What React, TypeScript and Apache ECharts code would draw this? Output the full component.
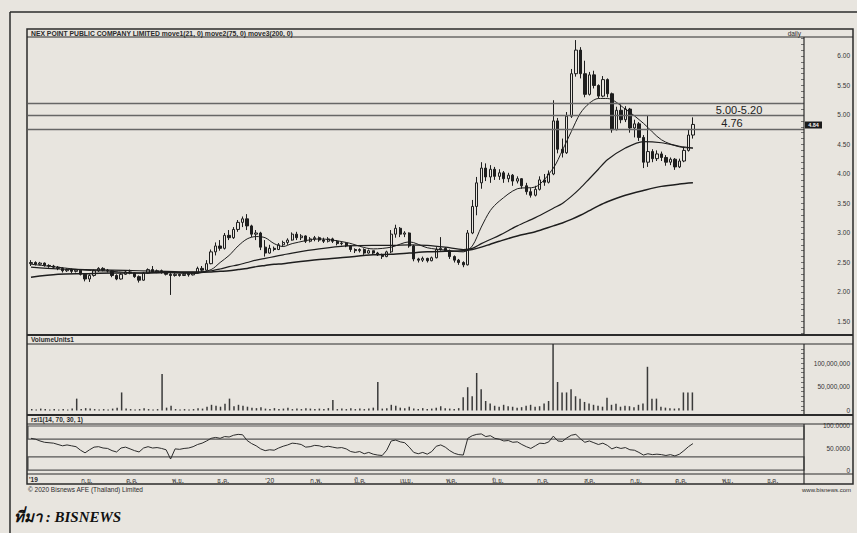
import React, { useEffect, useRef } from "react";
import * as echarts from "echarts";

const candleDates = [
  "2019-07-26","2019-07-29","2019-08-01","2019-08-04","2019-08-07","2019-08-10","2019-08-13","2019-08-16","2019-08-19","2019-08-22",
  "2019-08-25","2019-08-28","2019-08-31","2019-09-03","2019-09-06","2019-09-09","2019-09-12","2019-09-15","2019-09-18","2019-09-21",
  "2019-09-24","2019-09-27","2019-09-30","2019-10-03","2019-10-06","2019-10-09","2019-10-12","2019-10-15","2019-10-18","2019-10-21",
  "2019-10-24","2019-10-27","2019-10-30","2019-11-02","2019-11-05","2019-11-08","2019-11-11","2019-11-14","2019-11-17","2019-11-20",
  "2019-11-23","2019-11-26","2019-11-29","2019-12-02","2019-12-05","2019-12-08","2019-12-11","2019-12-14","2019-12-17","2019-12-20",
  "2019-12-23","2019-12-26","2019-12-29","2020-01-01","2020-01-04","2020-01-07","2020-01-10","2020-01-13","2020-01-16","2020-01-19",
  "2020-01-22","2020-01-25","2020-01-28","2020-01-31","2020-02-03","2020-02-06","2020-02-09","2020-02-12","2020-02-15","2020-02-18",
  "2020-02-21","2020-02-24","2020-02-27","2020-03-01","2020-03-04","2020-03-07","2020-03-10","2020-03-13","2020-03-16","2020-03-19",
  "2020-03-22","2020-03-25","2020-03-28","2020-03-31","2020-04-03","2020-04-06","2020-04-09","2020-04-12","2020-04-15","2020-04-18",
  "2020-04-21","2020-04-24","2020-04-27","2020-04-30","2020-05-03","2020-05-06","2020-05-09","2020-05-12","2020-05-15","2020-05-18",
  "2020-05-21","2020-05-24","2020-05-27","2020-05-30","2020-06-02","2020-06-05","2020-06-08","2020-06-11","2020-06-14","2020-06-17",
  "2020-06-20","2020-06-23","2020-06-26","2020-06-29","2020-07-02","2020-07-05","2020-07-08","2020-07-11","2020-07-14","2020-07-17",
  "2020-07-20","2020-07-23","2020-07-26","2020-07-29","2020-08-01","2020-08-04","2020-08-07","2020-08-10","2020-08-13","2020-08-16",
  "2020-08-19","2020-08-22","2020-08-25","2020-08-28","2020-08-31","2020-09-03","2020-09-06","2020-09-09","2020-09-12","2020-09-15",
  "2020-09-18","2020-09-21","2020-09-24","2020-09-27","2020-09-30","2020-10-03","2020-10-06","2020-10-09"
];

const openPrice = [
  2.48,2.50,2.47,2.49,2.45,2.44,2.42,2.40,2.36,2.38,
  2.35,2.37,2.30,2.22,2.28,2.36,2.40,2.37,2.36,2.28,
  2.22,2.30,2.34,2.32,2.26,2.20,2.32,2.38,2.34,2.36,
  2.33,2.30,2.28,2.30,2.28,2.30,2.29,2.32,2.40,2.37,
  2.48,2.68,2.78,2.74,2.96,2.92,3.06,3.18,3.24,3.12,
  2.98,3.00,2.76,2.66,2.74,2.72,2.80,2.84,2.88,2.98,
  2.92,2.95,2.86,2.90,2.92,2.88,2.86,2.90,2.86,2.82,
  2.83,2.78,2.72,2.70,2.72,2.66,2.70,2.66,2.63,2.60,
  2.68,2.98,3.08,2.98,3.00,2.78,2.56,2.54,2.57,2.53,
  2.58,2.72,2.74,2.70,2.60,2.54,2.50,2.46,3.00,3.45,
  3.85,4.10,3.95,4.08,3.96,4.02,3.92,3.98,3.88,3.92,
  3.80,3.70,3.64,3.74,3.90,3.86,4.00,4.90,4.42,4.36,
  4.98,5.70,6.10,5.70,5.35,5.68,5.50,5.32,5.60,5.36,
  4.75,5.08,4.92,5.10,4.78,4.85,4.62,4.20,4.38,4.26,
  4.34,4.28,4.20,4.25,4.12,4.22,4.40,4.66
];
const closePrice = [
  2.50,2.47,2.49,2.45,2.44,2.42,2.40,2.36,2.38,2.35,
  2.37,2.30,2.22,2.28,2.36,2.40,2.37,2.36,2.28,2.22,
  2.30,2.34,2.32,2.26,2.20,2.32,2.38,2.34,2.36,2.33,
  2.30,2.28,2.30,2.28,2.30,2.29,2.32,2.40,2.37,2.48,
  2.68,2.78,2.74,2.96,2.92,3.06,3.18,3.24,3.12,2.98,
  3.00,2.76,2.66,2.74,2.72,2.80,2.84,2.88,2.98,2.92,
  2.95,2.86,2.90,2.92,2.88,2.86,2.90,2.86,2.82,2.83,
  2.78,2.72,2.70,2.72,2.66,2.70,2.66,2.63,2.60,2.68,
  2.98,3.08,2.98,3.00,2.78,2.56,2.54,2.57,2.53,2.58,
  2.72,2.74,2.70,2.60,2.54,2.50,2.46,3.00,3.45,3.85,
  4.10,3.95,4.08,3.96,4.02,3.92,3.98,3.88,3.92,3.80,
  3.70,3.64,3.74,3.90,3.86,4.00,4.90,4.42,4.36,4.98,
  5.70,6.10,5.70,5.35,5.68,5.50,5.32,5.60,5.36,4.75,
  5.08,4.92,5.10,4.78,4.85,4.62,4.20,4.38,4.26,4.34,
  4.28,4.20,4.25,4.12,4.22,4.40,4.66,4.84
];
const lowPrice = [
  2.44,2.45,2.45,2.43,2.41,2.40,2.37,2.33,2.34,2.32,
  2.33,2.28,2.18,2.17,2.26,2.34,2.35,2.33,2.25,2.20,
  2.21,2.29,2.30,2.24,2.16,2.19,2.31,2.32,2.32,2.31,
  2.28,1.95,2.26,2.26,2.27,2.26,2.28,2.31,2.34,2.36,
  2.47,2.62,2.70,2.72,2.88,2.90,3.02,3.10,3.05,2.93,
  2.88,2.71,2.60,2.65,2.69,2.71,2.78,2.80,2.87,2.88,
  2.88,2.83,2.84,2.86,2.85,2.83,2.84,2.83,2.79,2.79,
  2.76,2.68,2.66,2.67,2.63,2.65,2.63,2.61,2.56,2.59,
  2.66,2.92,2.93,2.93,2.75,2.52,2.50,2.51,2.50,2.52,
  2.57,2.70,2.68,2.56,2.50,2.46,2.42,2.45,2.98,3.30,
  3.75,3.88,3.85,3.90,3.90,3.85,3.86,3.80,3.84,3.75,
  3.65,3.60,3.62,3.72,3.80,3.84,3.98,4.35,4.28,4.34,
  4.95,5.65,5.62,5.30,5.33,5.45,5.28,5.30,5.30,4.70,
  4.74,4.86,4.88,4.70,4.62,4.56,4.10,4.12,4.20,4.22,
  4.22,4.14,4.15,4.07,4.10,4.20,4.38,4.60
];
const highPrice = [
  2.54,2.52,2.51,2.50,2.47,2.46,2.44,2.42,2.40,2.40,
  2.39,2.38,2.32,2.30,2.38,2.42,2.42,2.39,2.37,2.30,
  2.32,2.36,2.38,2.33,2.28,2.34,2.40,2.44,2.38,2.38,
  2.35,2.32,2.32,2.31,2.32,2.31,2.34,2.43,2.44,2.54,
  2.72,2.84,2.88,3.00,3.05,3.10,3.22,3.28,3.32,3.14,
  3.05,3.02,2.88,2.80,2.77,2.83,2.87,2.91,3.01,3.02,
  2.98,2.96,2.93,2.95,2.94,2.92,2.93,2.92,2.88,2.85,
  2.84,2.79,2.74,2.74,2.74,2.72,2.70,2.68,2.65,2.70,
  3.05,3.14,3.10,3.03,3.01,2.80,2.58,2.60,2.58,2.60,
  2.76,2.93,2.76,2.72,2.62,2.56,2.52,3.05,3.56,3.95,
  4.20,4.18,4.15,4.12,4.08,4.05,4.02,4.00,3.96,3.93,
  3.85,3.76,3.80,3.96,4.00,4.06,5.25,4.95,4.60,5.05,
  5.78,6.27,6.15,5.92,5.73,5.75,5.52,5.66,5.62,5.38,
  5.14,5.18,5.15,5.12,4.92,4.88,4.66,5.00,4.42,4.40,
  4.38,4.32,4.28,4.27,4.26,4.46,4.75,4.96
];

// volume in millions of units
const volumeMillions = [
  3,2,4,3,2,3,2,3,2,4,
  25,3,5,4,3,2,3,2,4,6,
  38,4,3,2,3,5,3,2,3,77,
  6,10,3,2,3,2,3,5,4,8,
  12,10,8,14,25,9,12,10,8,6,
  5,7,4,3,5,3,4,6,3,4,
  3,5,4,3,4,3,5,22,3,4,
  3,5,3,4,3,4,6,60,4,5,
  12,10,6,5,8,4,3,5,3,4,
  6,9,5,4,3,5,28,49,30,79,
  45,20,15,10,8,12,9,8,6,7,
  10,12,8,9,15,20,140,60,38,38,
  45,30,25,18,15,12,10,8,27,12,
  14,8,10,9,7,12,15,92,25,25,
  8,6,5,4,5,38,38,38
];

const rsiValues = [
  72,70,66,63,62,61,58,55,57,55,
  53,45,39,46,52,53,50,49,44,41,
  50,52,48,44,41,50,53,50,51,49,
  46,25,48,47,49,50,53,58,61,66,
  72,74,72,76,75,79,81,80,67,60,
  55,48,44,46,45,50,54,57,61,60,
  58,52,53,56,55,52,54,52,50,51,
  48,42,40,42,37,40,36,34,33,45,
  66,68,64,62,52,40,37,40,36,42,
  54,57,52,44,38,35,34,72,78,81,
  82,76,78,72,70,66,67,63,64,58,
  53,49,55,61,60,64,77,66,65,73,
  79,81,71,63,66,62,58,61,56,48,
  52,49,51,46,45,40,34,37,35,36,
  35,33,35,32,36,44,53,60
];

const maDates = [
  "2019-07-26","2019-08-13","2019-08-31","2019-09-18","2019-10-06","2019-10-24","2019-11-11","2019-11-23","2019-11-29","2019-12-05",
  "2019-12-11","2019-12-17","2019-12-23","2019-12-29","2020-01-04","2020-01-10","2020-01-16","2020-02-03","2020-02-21","2020-03-10",
  "2020-03-22","2020-04-03","2020-04-15","2020-04-27","2020-05-09","2020-05-15","2020-05-21","2020-05-27","2020-06-02","2020-06-14",
  "2020-06-26","2020-07-08","2020-07-14","2020-07-20","2020-07-26","2020-08-01","2020-08-07","2020-08-13","2020-08-25","2020-09-06",
  "2020-09-18","2020-09-30","2020-10-09"
];
const move1 = [
  2.47,2.42,2.37,2.35,2.32,2.33,2.31,2.38,2.50,2.62,
  2.78,2.90,2.94,2.92,2.82,2.77,2.82,2.90,2.84,2.73,
  2.76,2.85,2.75,2.71,2.68,2.78,3.10,3.38,3.54,3.75,
  3.78,4.10,4.40,4.72,5.03,5.20,5.28,5.28,5.10,4.86,
  4.58,4.46,4.44
];
const move2 = [
  2.42,2.39,2.38,2.37,2.36,2.35,2.34,2.36,2.39,2.43,
  2.46,2.50,2.54,2.57,2.60,2.63,2.66,2.73,2.78,2.79,
  2.79,2.80,2.79,2.76,2.72,2.74,2.82,2.89,2.96,3.12,
  3.26,3.42,3.50,3.62,3.76,3.92,4.08,4.24,4.44,4.55,
  4.53,4.47,4.44
];
const move3 = [
  2.25,2.30,2.31,2.32,2.32,2.33,2.33,2.34,2.35,2.36,
  2.38,2.40,2.43,2.45,2.47,2.48,2.50,2.55,2.59,2.63,
  2.64,2.66,2.68,2.69,2.70,2.72,2.76,2.81,2.86,2.95,
  3.02,3.12,3.17,3.23,3.30,3.38,3.46,3.53,3.64,3.72,
  3.79,3.83,3.85
];

const keyLevels = [5.2, 5.0, 4.76];
const priceTickLabels = [1.5, 2.0, 2.5, 3.0, 3.5, 4.0, 4.5, 5.0, 5.5, 6.0];
const priceMinorTicks = [
  1.3,1.4,1.5,1.6,1.7,1.8,1.9,2.0,2.1,2.2,2.3,2.4,2.5,2.6,2.7,2.8,2.9,3.0,3.1,3.2,3.3,3.4,3.5,
  3.6,3.7,3.8,3.9,4.0,4.1,4.2,4.3,4.4,4.5,4.6,4.7,4.8,4.9,5.0,5.1,5.2,5.3,5.4,5.5,5.6,5.7,5.8,5.9,6.0,6.1,6.2,6.3
];
const volumeMinorTicks = [0, 10, 20, 30, 40, 50, 60, 70, 80, 90, 100, 110, 120, 130];
const volumeTickLabels = [0, 50, 100];
const rsiTickLabels = [0, 50, 100];
const thaiMonths = ["ม.ค.","ก.พ.","มี.ค.","เม.ย.","พ.ค.","มิ.ย.","ก.ค.","ส.ค.","ก.ย.","ต.ค.","พ.ย.","ธ.ค."];
const lastPrice = "4.84";

const INK = "#2b2b2b";
const PAPER = "#e8e5df";
const SANS = "'Liberation Sans', Arial, sans-serif";
const X_MIN = "2019-07-24";
const X_MAX = "2020-12-22";
const DAY = 86400000;

export default function App() {
  const ref = useRef<HTMLDivElement>(null);
  useEffect(() => {
    document.body.style.margin = "0";
    const chart = echarts.init(ref.current as HTMLDivElement, null, { renderer: "svg" });

    const candles = candleDates.map((d, i) => [d, openPrice[i], closePrice[i], lowPrice[i], highPrice[i]]);
    const vol = candleDates.map((d, i) => [d, volumeMillions[i]]);
    const rsi = candleDates.map((d, i) => [d, rsiValues[i]]);
    const ma = (arr: number[]) => maDates.map((d, i) => [d, arr[i]]);

    const xBase = (gridIndex: number, showLabel: boolean) => ({
      type: "time",
      gridIndex,
      min: X_MIN,
      max: X_MAX,
      minInterval: 28 * DAY,
      maxInterval: 31 * DAY,
      axisLine: { show: false },
      axisTick: { show: false },
      splitLine: { show: false },
      axisLabel: {
        show: showLabel,
        color: "#333",
        fontSize: 6.5,
        fontFamily: "'Noto Sans', 'DejaVu Sans', sans-serif",
        margin: 3,
        verticalAlign: "top",
        formatter: (value: number) => {
          const dt = new Date(value);
          if (dt.getDate() !== 1) return "";
          const m = dt.getMonth();
          const y = dt.getFullYear();
          if (y === 2019 && m === 7) return "";
          if (m === 0) return "'" + String(y).slice(2);
          return thaiMonths[m];
        },
      },
    });

    const yLabel = {
      color: "#333",
      fontSize: 6.5,
      fontFamily: SANS,
      align: "right",
      margin: 46,
    };

    const hline = (x1: number, y1: number, x2: number, y2: number, w = 1) => ({
      type: "line",
      shape: { x1, y1, x2, y2 },
      style: { stroke: INK, lineWidth: w },
      silent: true,
      z: 10,
    });
    const txt = (text: string, x: number, y: number, size: number, opts: any = {}, z = 11) => ({
      type: "text",
      x,
      y,
      silent: true,
      z,
      style: {
        text,
        fill: INK,
        fontSize: size,
        fontFamily: SANS,
        verticalAlign: "middle",
        align: "left",
        ...opts,
      },
    });

    const option: any = {
      animation: false,
      backgroundColor: PAPER,
      grid: [
        { left: 28, width: 776, top: 38, height: 297 },
        { left: 28, width: 776, top: 344, height: 66.5 },
        { left: 28, width: 776, top: 424, height: 50 },
      ],
      xAxis: [xBase(0, false), xBase(1, false), xBase(2, true)],
      yAxis: [
        {
          type: "value",
          gridIndex: 0,
          position: "right",
          min: 1.271,
          max: 6.305,
          axisLine: { show: false },
          splitLine: { show: false },
          axisTick: { show: true, inside: true, length: 3, customValues: priceMinorTicks, lineStyle: { color: "#555", width: 0.8 } },
          axisLabel: { ...yLabel, customValues: priceTickLabels, formatter: (v: number) => v.toFixed(2) },
        },
        {
          type: "value",
          gridIndex: 1,
          position: "right",
          min: 0,
          max: 140,
          axisLine: { show: false },
          splitLine: { show: false },
          axisTick: { show: true, inside: true, length: 3, customValues: volumeMinorTicks, lineStyle: { color: "#555", width: 0.8 } },
          axisLabel: {
            ...yLabel,
            customValues: volumeTickLabels,
            formatter: (v: number) => (v === 0 ? "0" : (v * 1000000).toLocaleString("en-US")),
          },
        },
        {
          type: "value",
          gridIndex: 2,
          position: "right",
          min: -9,
          max: 104.5,
          axisLine: { show: false },
          splitLine: { show: false },
          axisTick: { show: false },
          axisLabel: {
            ...yLabel,
            customValues: rsiTickLabels,
            formatter: (v: number) => (v === 0 ? "0" : v.toFixed(4)),
          },
        },
      ],
      series: [
        {
          name: "price",
          type: "candlestick",
          xAxisIndex: 0,
          yAxisIndex: 0,
          data: candles,
          encode: { x: 0, y: [1, 2, 3, 4] },
          barWidth: 2.8,
          itemStyle: {
            color: PAPER,
            color0: "#1e1e1e",
            borderColor: "#1e1e1e",
            borderColor0: "#1e1e1e",
            borderWidth: 1,
          },
          markLine: {
            silent: true,
            symbol: "none",
            label: { show: false },
            lineStyle: { color: "#666", width: 1.3, type: "solid" },
            data: keyLevels.map((v) => ({ yAxis: v })),
          },
          z: 3,
        },
        {
          name: "move1",
          type: "line",
          xAxisIndex: 0,
          yAxisIndex: 0,
          data: ma(move1),
          showSymbol: false,
          smooth: 0.3,
          lineStyle: { color: "#1e1e1e", width: 1 },
          z: 4,
        },
        {
          name: "move2",
          type: "line",
          xAxisIndex: 0,
          yAxisIndex: 0,
          data: ma(move2),
          showSymbol: false,
          smooth: 0.3,
          lineStyle: { color: "#1e1e1e", width: 1.2 },
          z: 4,
        },
        {
          name: "move3",
          type: "line",
          xAxisIndex: 0,
          yAxisIndex: 0,
          data: ma(move3),
          showSymbol: false,
          smooth: 0.3,
          lineStyle: { color: "#1e1e1e", width: 1.5 },
          z: 4,
        },
        {
          name: "volume",
          type: "bar",
          xAxisIndex: 1,
          yAxisIndex: 1,
          data: vol,
          barWidth: 1.5,
          itemStyle: { color: "#3a3a3a" },
        },
        {
          name: "rsi",
          type: "line",
          xAxisIndex: 2,
          yAxisIndex: 2,
          data: rsi,
          showSymbol: false,
          lineStyle: { color: "#2b2b2b", width: 1 },
          markArea: {
            silent: true,
            itemStyle: { color: "rgba(0,0,0,0)", borderColor: "#555", borderWidth: 1.2 },
            data: [
              [{ yAxis: 70 }, { yAxis: 100 }],
              [{ yAxis: 0 }, { yAxis: 30 }],
            ],
          },
        },
      ],
      graphic: [
        hline(10, 12, 10, 533, 1.5),
        hline(10, 12, 857, 12, 1.5),
        { type: "rect", shape: { x: 27, y: 29, width: 826, height: 455 }, style: { fill: "none", stroke: INK, lineWidth: 1.5 }, silent: true, z: 10 },
        hline(27, 37, 853, 37, 1),
        hline(804, 37, 804, 335, 1.2),
        hline(27, 335, 853, 335, 2),
        hline(27, 344, 853, 344, 1),
        hline(804, 344, 804, 415, 1.2),
        hline(27, 415, 853, 415, 2),
        hline(27, 424, 853, 424, 1),
        hline(804, 424, 804, 484, 1.2),
        hline(27, 474, 853, 474, 1.2),
        txt("NEX POINT PUBLIC COMPANY LIMITED move1(21, 0) move2(75, 0) move3(200, 0)", 31, 33.5, 6.8, { fontWeight: "bold" }),
        txt("daily", 801, 33.5, 6.5, { align: "right" }),
        txt("VolumeUnits1", 31, 339.5, 6.5, { fontWeight: "bold" }),
        txt("rsi1(14, 70, 30, 1)", 31, 419.5, 6.5, { fontWeight: "bold" }),
        txt("'19", 29, 479, 6.5, { fontWeight: "bold" }),
        txt("© 2020 Bisnews AFE (Thailand) Limited", 28, 489.5, 6.5),
        txt("www.bisnews.com", 851, 490, 6, { align: "right" }),
        txt("5.00-5.20", 739, 109.5, 11, { align: "center", fill: "#222" }),
        txt("4.76", 732, 123, 11, { align: "center", fill: "#222" }),
        { type: "rect", shape: { x: 805, y: 121.5, width: 17, height: 7 }, style: { fill: "#1a1a1a" }, silent: true, z: 12 },
        txt(lastPrice, 813.5, 125.2, 5.5, { align: "center", fill: "#f2f2f2", fontWeight: "bold" }, 14),
        {
          type: "text",
          x: 14,
          y: 517,
          silent: true,
          z: 11,
          style: {
            text: "ที่มา : BISNEWS",
            fill: "#111",
            fontSize: 15,
            fontStyle: "italic",
            fontWeight: "bold",
            fontFamily: "'Liberation Serif', 'DejaVu Serif', serif",
            verticalAlign: "middle",
            align: "left",
          },
        },
      ],
    };

    chart.setOption(option);
    return () => chart.dispose();
  }, []);

  return (
    <div
      ref={ref}
      style={{ position: "absolute", left: 0, top: 0, width: 857, height: 533, background: PAPER }}
    />
  );
}
